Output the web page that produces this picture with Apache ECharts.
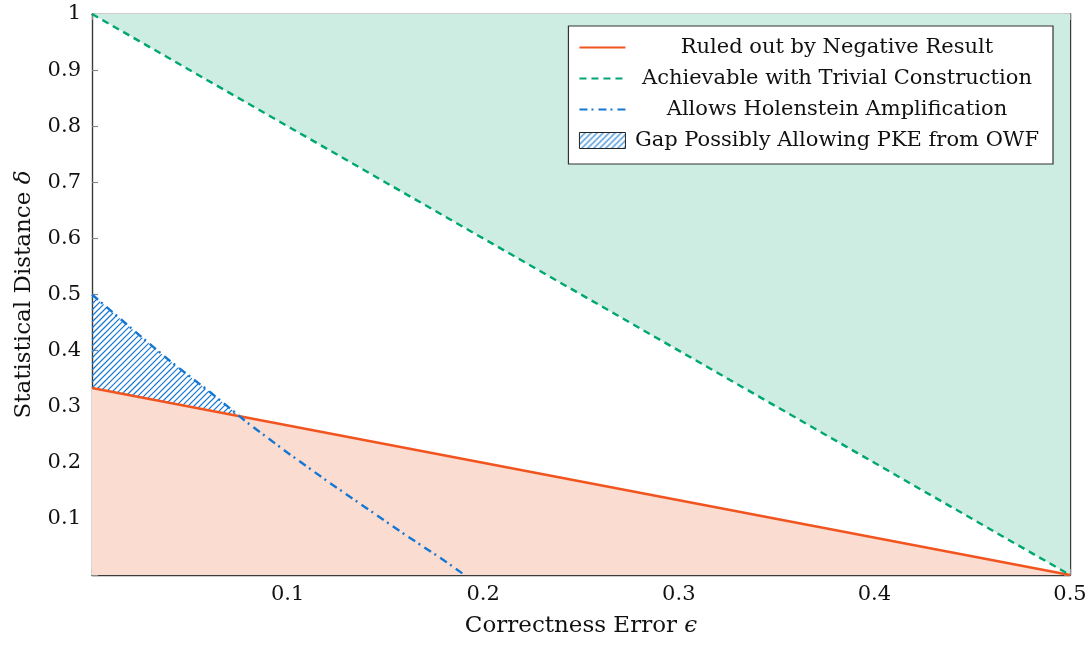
<!DOCTYPE html>
<html>
<head>
<meta charset="utf-8">
<script src="https://cdn.jsdelivr.net/npm/echarts@6/dist/echarts.min.js"></script>
<style>
  html, body { margin: 0; padding: 0; background: #fff; }
  #main { width: 1092px; height: 646px; }
</style>
</head>
<body>
<div id="main"></div>
<script>
// data: x = correctness error, y = statistical distance
const negativeResult = [[0, 0.3333], [0.5, 0]]
const trivialConstruction = [[0, 1], [0.5, 0]]
const holenstein = [
  [0, 0.5], [0.02, 0.44], [0.04, 0.381], [0.06, 0.327], [0.08, 0.27],
  [0.1, 0.218], [0.12, 0.168], [0.14, 0.12], [0.16, 0.072], [0.18, 0.026], [0.1905, 0]
]
// region between holenstein curve and negative result line
const gapRegion = [
  [0, 0.5], [0.02, 0.44], [0.04, 0.381], [0.06, 0.327], [0.0755, 0.283], [0, 0.3333]
]
const seriesNames = [
  'Ruled out by Negative Result',
  'Achievable with Trivial Construction',
  'Allows Holenstein Amplification',
  'Gap Possibly Allowing PKE from OWF'
]

const FONT = 'DejaVu Serif'
const ORANGE = '#f2541f'
const GREEN = '#00a673'
const BLUE = '#1677d2'

// north east lines hatch for the legend swatch
function hatch() {
  const c = document.createElement('canvas')
  c.width = 6
  c.height = 6
  const g = c.getContext('2d')
  g.strokeStyle = BLUE
  g.lineWidth = 1.2
  g.beginPath()
  g.moveTo(-1, 7); g.lineTo(7, -1)
  g.moveTo(-4, 4); g.lineTo(4, -4)
  g.moveTo(2, 10); g.lineTo(10, 2)
  g.stroke()
  return { image: c, repeat: 'repeat' }
}
const hatchFill = hatch()

// hatch lines (x + y = c in pixels) clipped to a polygon
function hatchLines(pts, step) {
  let lo = Infinity, hi = -Infinity
  pts.forEach(p => { lo = Math.min(lo, p[0] + p[1]); hi = Math.max(hi, p[0] + p[1]) })
  const out = []
  for (let c = Math.ceil(lo / step) * step; c <= hi; c += step) {
    const hits = []
    for (let i = 0; i < pts.length; i++) {
      const a = pts[i], b = pts[(i + 1) % pts.length]
      const s1 = a[0] + a[1] - c, s2 = b[0] + b[1] - c
      if ((s1 <= 0 && s2 > 0) || (s2 <= 0 && s1 > 0)) {
        const t = s1 / (s1 - s2)
        hits.push([a[0] + t * (b[0] - a[0]), a[1] + t * (b[1] - a[1])])
      }
    }
    hits.sort((p, q) => p[0] - q[0])
    for (let k = 0; k + 1 < hits.length; k += 2) {
      out.push({
        type: 'line',
        shape: { x1: hits[k][0], y1: hits[k][1], x2: hits[k + 1][0], y2: hits[k + 1][1] },
        style: { stroke: BLUE, fill: null, lineWidth: 1.2, opacity: 1 }
      })
    }
  }
  return out
}

const axisCommon = {
  type: 'value',
  interval: 0.1,
  axisLine: { show: true, onZero: false, lineStyle: { color: '#3a3a3a', width: 1.4 } },
  axisTick: { show: true, inside: true, length: 6, lineStyle: { color: '#8a8a8a', width: 1.2 } },
  splitLine: { show: false }
}
const nameStyle = {
  fontFamily: FONT, fontSize: 23, color: '#111',
  rich: { i: { fontFamily: FONT, fontSize: 23, fontStyle: 'italic', color: '#111' } }
}
const tickLabel = { fontFamily: FONT, fontSize: 21, color: '#111', formatter: v => (v === 0 ? '' : v) }
const noSymbol = { color: 'transparent', borderWidth: 0, opacity: 0 }

const myChart = echarts.init(document.getElementById('main'))
const option = {
  animation: false,
  textStyle: { fontFamily: FONT },
  grid: { left: 92, right: 22, top: 14, bottom: 71 },
  legend: {
    right: 39,
    top: 26,
    orient: 'vertical',
    backgroundColor: '#fff',
    borderColor: '#333',
    borderWidth: 1.2,
    borderRadius: 0,
    padding: [11, 14, 13, 10],
    itemGap: 10,
    itemWidth: 46,
    itemHeight: 16,
    textStyle: {
      fontFamily: FONT,
      fontSize: 21,
      color: '#111',
      rich: { c: { fontFamily: FONT, fontSize: 21, width: 413, align: 'center', color: '#111' } }
    },
    formatter: name => '{c|' + name + '}',
    data: [
      { name: seriesNames[0], itemStyle: noSymbol },
      { name: seriesNames[1], itemStyle: noSymbol },
      { name: seriesNames[2], itemStyle: noSymbol },
      { name: seriesNames[3], icon: 'rect', itemStyle: { color: hatchFill, borderColor: '#222', borderWidth: 1 } }
    ]
  },
  xAxis: [
    Object.assign({}, axisCommon, {
      min: 0, max: 0.5,
      position: 'bottom',
      name: 'Correctness Error {i|ϵ}',
      nameLocation: 'middle',
      nameGap: 40,
      nameTextStyle: nameStyle,
      axisLabel: Object.assign({ margin: 9 }, tickLabel)
    }),
    Object.assign({}, axisCommon, {
      min: 0, max: 0.5,
      position: 'top',
      axisLabel: { show: false }
    })
  ],
  yAxis: [
    Object.assign({}, axisCommon, {
      min: 0, max: 1,
      position: 'left',
      name: 'Statistical Distance {i|δ}',
      nameLocation: 'middle',
      nameGap: 56,
      nameTextStyle: nameStyle,
      axisLabel: Object.assign({ margin: 11 }, tickLabel)
    }),
    Object.assign({}, axisCommon, {
      min: 0, max: 1,
      position: 'right',
      axisLabel: { show: false }
    })
  ],
  series: [
    {
      name: seriesNames[0],
      type: 'line',
      data: negativeResult,
      showSymbol: false,
      symbol: 'none',
      color: ORANGE,
      lineStyle: { color: ORANGE, width: 2.6 },
      areaStyle: { color: '#fadcd1', opacity: 1, origin: 'start' },
      z: 3
    },
    {
      name: seriesNames[1],
      type: 'line',
      data: trivialConstruction,
      showSymbol: false,
      symbol: 'none',
      color: GREEN,
      lineStyle: { color: GREEN, width: 2.4, type: [7, 5] },
      areaStyle: { color: '#cdece2', opacity: 1, origin: 'end' },
      z: 3
    },
    {
      name: seriesNames[2],
      type: 'line',
      data: holenstein,
      showSymbol: false,
      symbol: 'none',
      color: BLUE,
      lineStyle: { color: BLUE, width: 2.4, type: [8, 4, 2, 5] },
      z: 4
    },
    {
      name: seriesNames[3],
      type: 'custom',
      data: gapRegion,
      encode: { x: 0, y: 1 },
      itemStyle: { color: BLUE },
      z: 2,
      renderItem: (params, api) => {
        if (params.dataIndex !== 0) return
        const pts = gapRegion.map(p => api.coord(p))
        return { type: 'group', children: hatchLines(pts, 6) }
      }
    }
  ]
}
option && myChart.setOption(option)
</script>
</body>
</html>
